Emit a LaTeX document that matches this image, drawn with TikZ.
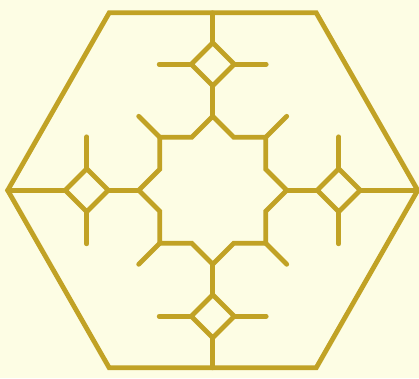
\documentclass[tikz,border=0pt]{standalone}
\definecolor{bg}{HTML}{FDFDE4}
\definecolor{gold}{HTML}{C1A225}
\tikzset{motif/.style={draw=gold,line width=4.8pt,line cap=round,line join=miter}}
\begin{document}
\begin{tikzpicture}[x=1pt,y=-1pt]
\fill[bg] (0,0) rectangle (419,378);
\useasboundingbox (0,0) rectangle (419,378);
\begin{scope}[shift={(212.7,190.3)}]
% hexagon
\draw[motif] (-103.5,-177.5) -- (103.5,-177.5) -- (205,0) -- (103.5,177.5) -- (-103.5,177.5) -- (-205,0) -- cycle;
% star octagon
\draw[motif,line join=miter] (0,-74) -- (21,-53) -- (53,-53) -- (53,-21) -- (74,0) -- (53,21) -- (53,53) -- (21,53) -- (0,74) -- (-21,53) -- (-53,53) -- (-53,21) -- (-74,0) -- (-53,-21) -- (-53,-53) -- (-21,-53) -- cycle;
% corner spurs
\foreach \sx/\sy in {1/1,1/-1,-1/1,-1/-1}
  \draw[motif] (53*\sx,53*\sy) -- (74*\sx,74*\sy);
% four diamond motifs
\foreach \a/\o in {0/205,90/177.5,180/205,270/177.5}{
  \begin{scope}[rotate=\a]
    \draw[motif] (74,0) -- (104.5,0);
    \draw[motif] (126,-21.5) -- (147.5,0) -- (126,21.5) -- (104.5,0) -- cycle;
    \draw[motif] (147.5,0) -- (\o,0);
    \draw[motif] (126,-53.5) -- (126,-21.5);
    \draw[motif] (126,21.5) -- (126,53.5);
  \end{scope}
}
\end{scope}
\end{tikzpicture}
\end{document}
